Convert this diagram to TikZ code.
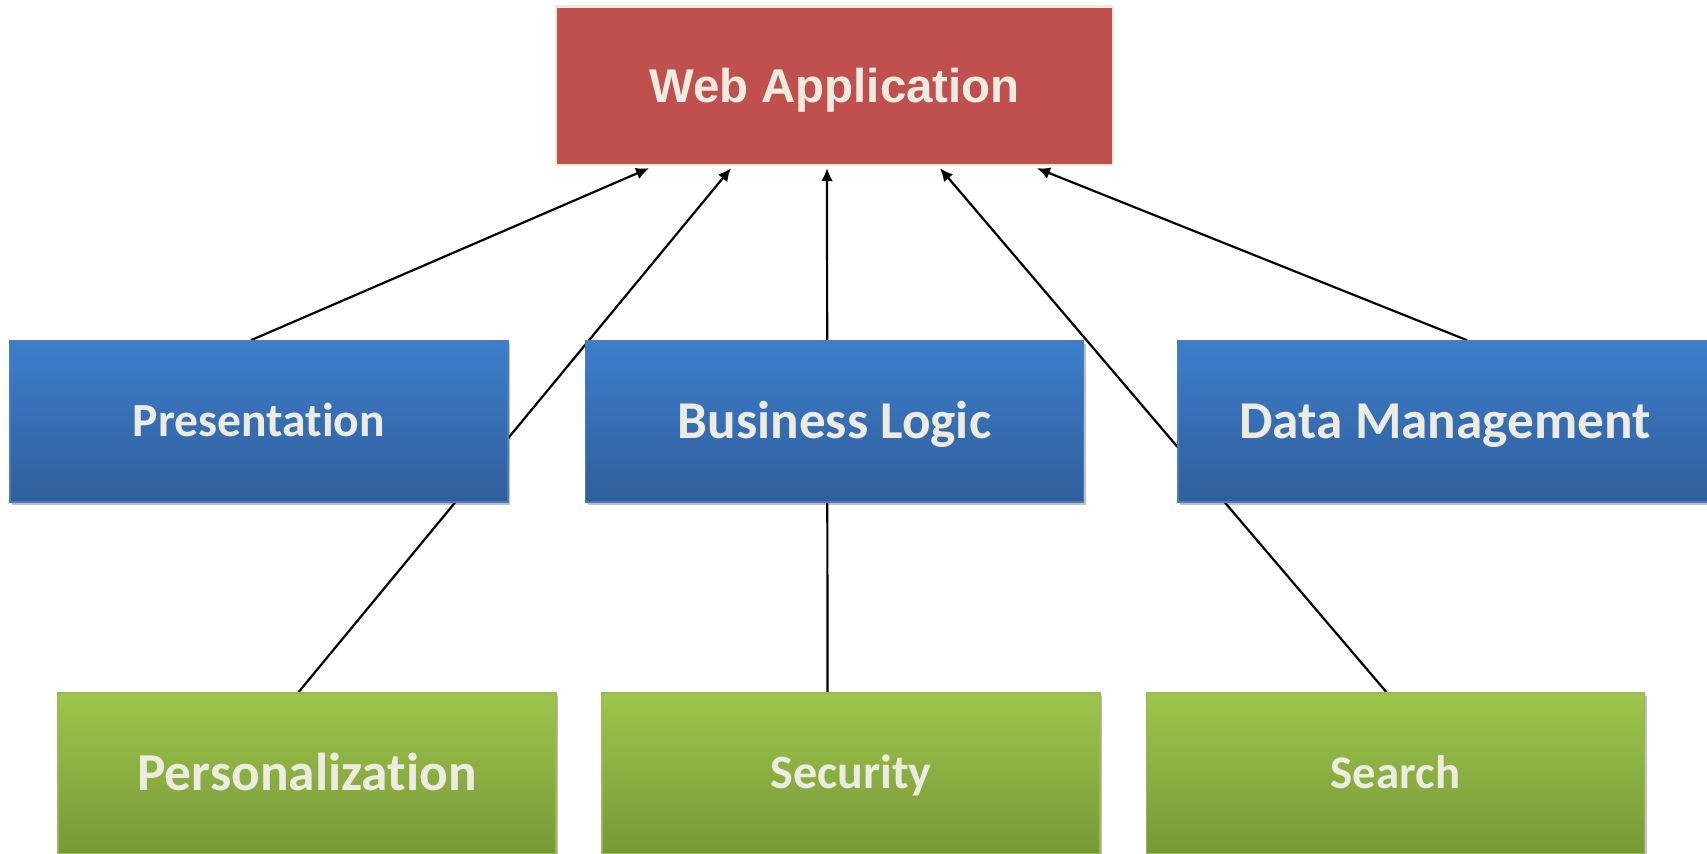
\documentclass[tikz,border=0pt]{standalone}
\usepackage{fontspec}
\newfontfamily\calfont{Carlito}[Ligatures=NoCommon]
\newfontfamily\arialfont{Liberation Sans}
\usetikzlibrary{arrows.meta,shadows,backgrounds}

\definecolor{webred}{HTML}{C0504D}
\definecolor{creamtxt}{HTML}{EEECE1}
\definecolor{bluetop}{HTML}{3D7ECB}
\definecolor{bluebot}{HTML}{2F5E9B}
\definecolor{blueline}{HTML}{4A7EBB}
\definecolor{greentop}{HTML}{9DC64B}
\definecolor{greenbot}{HTML}{779838}
\definecolor{greenline}{HTML}{98B954}

\tikzset{
  % label font: size in pt, caps centred in the box
  cal/.style={font={\calfont\bfseries\fontsize{#1}{#1}\selectfont},
    text height={0.632*#1 pt}, text depth=0pt},
  arl/.style={font={\arialfont\bfseries\fontsize{#1}{#1}\selectfont},
    text height={0.688*#1 pt}, text depth=0pt},
  tierbox/.style={rectangle, inner sep=0pt, minimum width=249pt, minimum height=80.5pt,
    text=creamtxt,
    drop shadow={shadow xshift=1pt, shadow yshift=-1.5pt, opacity=0.25, fill=black}},
  layerbox/.style={tierbox, top color=bluetop, bottom color=bluebot, draw=blueline, line width=0.8pt},
  modulebox/.style={tierbox, top color=greentop, bottom color=greenbot, draw=greenline, line width=0.8pt},
  appbox/.style={rectangle, inner sep=0pt, minimum width=278.5pt, minimum height=79.25pt,
    fill=webred, draw=creamtxt, line width=1.2pt, text=creamtxt},
  link/.style={draw=black, line width=1.1pt, -{Latex[length=6.5pt,width=6pt]}}
}

\begin{document}
\begin{tikzpicture}[x=0.5pt, y=-0.5pt]
  \path[use as bounding box] (0,0) rectangle (1707,853);
  \clip (0,0) rectangle (1707,853);

  % top level
  \node[appbox, arl=23.7] (web) at (834.5,85.75) {Web Application};

  % tiers
  \node[layerbox, cal=23.8] (pres) at (259,421.5) {Presentation};
  \node[layerbox, cal=26.6] (logic) at (834.5,421.5) {Business Logic};
  \node[layerbox, cal=26.6, minimum width=267pt] (data) at (1445,421.5) {Data Management};

  % cross-cutting modules
  \node[modulebox, cal=26.7] (pers) at (307,773.5) {Personalization};
  \node[modulebox, cal=24] (sec) at (851,773.5) {Security};
  \node[modulebox, cal=23.4] (srch) at (1395.5,773.5) {Search};

  % connectors run behind the boxes
  \begin{scope}[on background layer]
    \draw[link] ([xshift=-4pt]pres.north) -- ([xshift=-92.75pt,yshift=-1pt]web.south);
    \draw[link] ([xshift=-4.25pt]pers.north) -- ([xshift=-51.75pt,yshift=-1pt]web.south);
    \draw[link] ([xshift=-11.75pt]sec.north) -- ([xshift=-3.75pt,yshift=-1pt]web.south);
    \draw[link] ([xshift=-4.5pt]srch.north) -- ([xshift=52.75pt,yshift=-1pt]web.south);
    \draw[link] ([xshift=11pt]data.north) -- ([xshift=101.25pt,yshift=-1pt]web.south);
  \end{scope}
\end{tikzpicture}
\end{document}
